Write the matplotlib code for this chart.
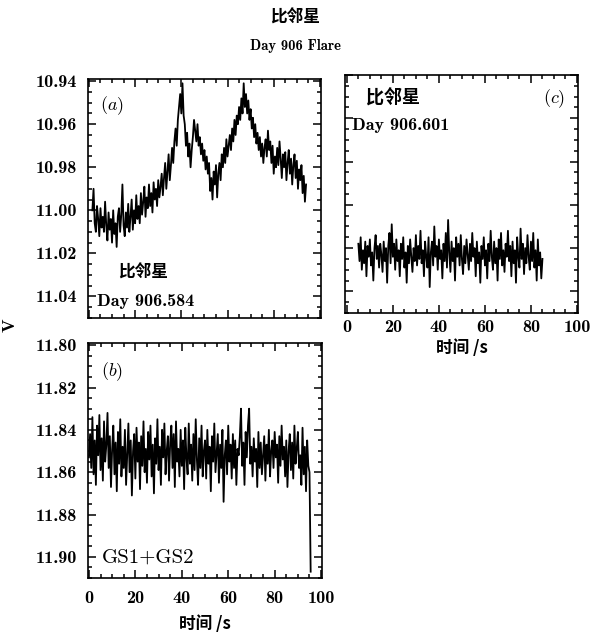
import numpy as np
import matplotlib
matplotlib.use("Agg")
import matplotlib.pyplot as plt
from matplotlib.ticker import MultipleLocator, FormatStrFormatter

plt.rcParams['font.family'] = ['cmb10', 'DejaVu Serif']
plt.rcParams['mathtext.fontset'] = 'cm'
plt.rcParams['axes.unicode_minus'] = False

CJK = ['Noto Sans CJK SC', 'DejaVu Sans']

# panel (a): Day 906.584, flare
t_a = np.arange(1.5, 94.01, 0.5)
v_a = [
    11.000, 10.990, 11.006, 11.010, 10.998, 11.004, 11.012, 10.999, 11.008, 11.003,
    11.010, 10.996, 11.007, 11.014, 11.001, 11.009, 11.004, 11.015, 11.000, 11.011,
    11.006, 11.017, 11.003, 10.999, 11.010, 11.002, 10.988, 11.007, 11.012, 11.001,
    11.008, 10.997, 11.010, 11.003, 10.995, 11.009, 11.000, 11.006, 10.993, 11.004,
    10.998, 11.006, 10.992, 11.002, 10.996, 10.989, 11.003, 10.994, 10.999, 10.988,
    10.998, 10.992, 11.001, 10.987, 10.995, 10.990, 10.998, 10.986, 10.994, 10.989,
    10.983, 10.993, 10.985, 10.978, 10.990, 10.982, 10.974, 10.986, 10.979, 10.971,
    10.978, 10.968, 10.962, 10.970, 10.958, 10.952, 10.946, 10.955, 10.941, 10.956,
    10.960, 10.970, 10.964, 10.975, 10.969, 10.980, 10.972, 10.966, 10.958, 10.963,
    10.968, 10.960, 10.970, 10.966, 10.974, 10.969, 10.977, 10.972, 10.981, 10.975,
    10.983, 10.978, 10.991, 10.985, 10.995, 10.982, 10.988, 10.979, 10.994, 10.983,
    10.978, 10.986, 10.974, 10.980, 10.971, 10.978, 10.967, 10.975, 10.970, 10.965,
    10.972, 10.962, 10.968, 10.958, 10.965, 10.956, 10.960, 10.952, 10.958, 10.948,
    10.955, 10.941, 10.952, 10.946, 10.955, 10.949, 10.958, 10.953, 10.962, 10.957,
    10.966, 10.960, 10.969, 10.964, 10.972, 10.966, 10.975, 10.969, 10.978, 10.971,
    10.967, 10.975, 10.963, 10.972, 10.968, 10.978, 10.970, 10.983, 10.975, 10.980,
    10.971, 10.979, 10.968, 10.976, 10.985, 10.974, 10.980, 10.973, 10.986, 10.978,
    10.972, 10.983, 10.976, 10.988, 10.979, 10.974, 10.985, 10.977, 10.990, 10.981,
    10.986, 10.979, 10.992, 10.984, 10.996, 10.988,
]

# panel (b): comparison stars GS1+GS2
t_b = np.arange(0.0, 95.51, 0.5)
v_b = [
    11.853, 11.842, 11.858, 11.834, 11.861, 11.845, 11.866, 11.838, 11.852, 11.833,
    11.859, 11.844, 11.864, 11.836, 11.855, 11.847, 11.832, 11.858, 11.843, 11.867,
    11.849, 11.838, 11.861, 11.846, 11.869, 11.841, 11.856, 11.835, 11.862, 11.848,
    11.858, 11.840, 11.866, 11.851, 11.837, 11.860, 11.845, 11.871, 11.850, 11.842,
    11.863, 11.839, 11.855, 11.846, 11.868, 11.843, 11.857, 11.836, 11.860, 11.849,
    11.865, 11.841, 11.854, 11.838, 11.862, 11.847, 11.870, 11.844, 11.856, 11.835,
    11.859, 11.848, 11.866, 11.840, 11.853, 11.837, 11.861, 11.850, 11.843, 11.864,
    11.846, 11.838, 11.858, 11.842, 11.867, 11.836, 11.855, 11.849, 11.862, 11.840,
    11.857, 11.845, 11.868, 11.839, 11.853, 11.861, 11.837, 11.856, 11.847, 11.864,
    11.842, 11.859, 11.835, 11.854, 11.866, 11.844, 11.858, 11.838, 11.862, 11.850,
    11.845, 11.863, 11.840, 11.856, 11.848, 11.869, 11.843, 11.855, 11.837, 11.860,
    11.851, 11.842, 11.865, 11.847, 11.858, 11.840, 11.874, 11.852, 11.845, 11.861,
    11.838, 11.855, 11.847, 11.863, 11.842, 11.858, 11.845, 11.866, 11.849, 11.852,
    11.843, 11.830, 11.857, 11.846, 11.866, 11.841, 11.853, 11.838, 11.830, 11.856,
    11.848, 11.862, 11.844, 11.855, 11.849, 11.867, 11.841, 11.858, 11.846, 11.861,
    11.852, 11.843, 11.864, 11.847, 11.856, 11.840, 11.862, 11.850, 11.845, 11.858,
    11.841, 11.853, 11.847, 11.865, 11.843, 11.857, 11.838, 11.854, 11.848, 11.862,
    11.845, 11.867, 11.850, 11.842, 11.859, 11.846, 11.863, 11.838, 11.856, 11.849,
    11.841, 11.858, 11.852, 11.866, 11.839, 11.861, 11.848, 11.869, 11.845, 11.857,
    11.860, 11.907,
]

# panel (c): Day 906.601, quiet
t_c = np.arange(5.0, 85.01, 0.5)
v_c = [
    11.018, 11.026, 11.015, 11.030, 11.021, 11.027, 11.017, 11.033, 11.019, 11.024,
    11.016, 11.028, 11.022, 11.035, 11.020, 11.014, 11.025, 11.019, 11.029, 11.018,
    11.023, 11.031, 11.017, 11.026, 11.020, 11.036, 11.019, 11.013, 11.027, 11.009,
    11.024, 11.018, 11.030, 11.016, 11.026, 11.021, 11.033, 11.018, 11.025, 11.015,
    11.029, 11.022, 11.036, 11.019, 11.027, 11.016, 11.024, 11.031, 11.020, 11.026,
    11.014, 11.028, 11.019, 11.025, 11.012, 11.027, 11.021, 11.033, 11.017, 11.024,
    11.029, 11.015, 11.038, 11.022, 11.017, 11.028, 11.010, 11.024, 11.019, 11.030,
    11.016, 11.025, 11.021, 11.034, 11.018, 11.026, 11.013, 11.029, 11.007, 11.022,
    11.031, 11.017, 11.026, 11.020, 11.035, 11.015, 11.024, 11.018, 11.028, 11.014,
    11.025, 11.032, 11.019, 11.027, 11.016, 11.023, 11.030, 11.018, 11.026, 11.013,
    11.024, 11.020, 11.033, 11.017, 11.027, 11.022, 11.036, 11.019, 11.025, 11.015,
    11.028, 11.021, 11.034, 11.018, 11.026, 11.012, 11.024, 11.030, 11.017, 11.027,
    11.020, 11.035, 11.016, 11.025, 11.013, 11.028, 11.021, 11.031, 11.018, 11.024,
    11.012, 11.026, 11.019, 11.033, 11.017, 11.027, 11.021, 11.036, 11.015, 11.024,
    11.029, 11.011, 11.025, 11.018, 11.032, 11.020, 11.027, 11.014, 11.024, 11.030,
    11.017, 11.026, 11.013, 11.029, 11.021, 11.035, 11.016, 11.028, 11.022, 11.034,
    11.025,
]

fig = plt.figure(figsize=(5.91, 6.38), dpi=100)
ax_a = fig.add_axes([0.1489, 0.5016, 0.394, 0.3746])
ax_b = fig.add_axes([0.1489, 0.0940, 0.396, 0.3683])
ax_c = fig.add_axes([0.5838, 0.5094, 0.394, 0.3730])


def style(ax, ylo, yhi, xlo, show_x=True, show_y=True, xpad=6):
    ax.set_xlim(xlo, 100.4)
    ax.set_ylim(ylo, yhi)  # magnitudes: inverted
    ax.xaxis.set_major_locator(MultipleLocator(20))
    ax.xaxis.set_minor_locator(MultipleLocator(5))
    ax.yaxis.set_major_locator(MultipleLocator(0.02))
    ax.yaxis.set_minor_locator(MultipleLocator(0.005))
    ax.yaxis.set_major_formatter(FormatStrFormatter('%.2f'))
    ax.tick_params(which='both', direction='in', top=True, right=True,
                   width=1.1, labelsize=13)
    ax.tick_params(axis='y', pad=8)
    ax.tick_params(axis='x', pad=xpad)
    ax.tick_params(which='major', length=6)
    ax.tick_params(which='minor', length=3)
    if not show_x:
        ax.tick_params(labelbottom=False)
    if not show_y:
        ax.tick_params(labelleft=False)
    for s in ax.spines.values():
        s.set_linewidth(1.2)


ax_a.plot(t_a, v_a, color='black', lw=1.3)
style(ax_a, 11.050, 10.939, -0.4, show_x=False)
ax_a.text(0.05, 0.87, r'$(a)$', transform=ax_a.transAxes, fontsize=13)
ax_a.text(0.13, 0.17, '比邻星', transform=ax_a.transAxes, fontsize=12,
          family=CJK, fontweight='bold')
ax_a.text(0.04, 0.05, 'Day 906.584', transform=ax_a.transAxes, fontsize=13)

ax_b.plot(t_b, v_b, color='black', lw=1.3)
style(ax_b, 11.910, 11.799, -0.4, xpad=9)
ax_b.text(0.055, 0.86, r'$(b)$', transform=ax_b.transAxes, fontsize=13)
ax_b.text(0.06, 0.065, 'GS1+GS2', transform=ax_b.transAxes, fontsize=15,
          family=['cmr10'])
ax_b.set_xlabel('时间 /s', family=CJK, fontweight='bold', fontsize=12,
                labelpad=7)

ax_c.plot(t_c, v_c, color='black', lw=1.3)
style(ax_c, 11.050, 10.940, -0.8, show_y=False, xpad=5)
ax_c.text(0.85, 0.88, r'$(c)$', transform=ax_c.transAxes, fontsize=13)
ax_c.text(0.09, 0.88, '比邻星', transform=ax_c.transAxes, fontsize=13,
          family=CJK, fontweight='bold')
ax_c.text(0.03, 0.77, 'Day 906.601', transform=ax_c.transAxes, fontsize=13)
ax_c.set_xlabel('时间 /s', family=CJK, fontweight='bold', fontsize=12,
                labelpad=3)

fig.text(0.017, 0.49, 'V', rotation=90, fontsize=13, ha='center', va='center')
fig.text(0.5, 0.972, '比邻星', family=CJK, fontweight='bold', fontsize=12,
         ha='center', va='center')
fig.text(0.5, 0.928, 'Day 906 Flare', fontsize=10.5, ha='center', va='center')

fig.savefig('out.png', dpi=100)
